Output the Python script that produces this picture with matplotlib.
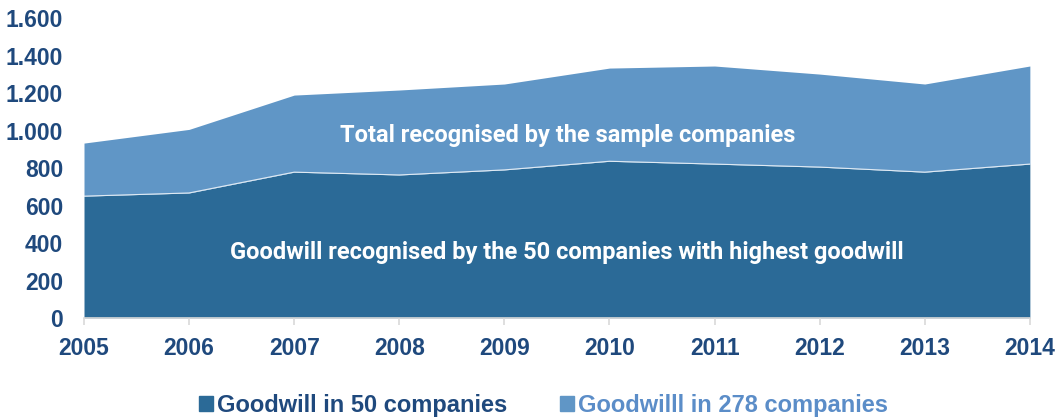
import numpy as np
import matplotlib.pyplot as plt
from matplotlib.ticker import FuncFormatter

years = [2005, 2006, 2007, 2008, 2009, 2010, 2011, 2012, 2013, 2014]
goodwill_50 = [650, 667, 778, 763, 790, 836, 821, 805, 778, 821]
goodwill_total = [933, 1006, 1189, 1216, 1248, 1333, 1344, 1301, 1248, 1344]

dark = '#2b6a97'
light = '#6096c6'
navy = '#1f497d'

fig = plt.figure(figsize=(10.58, 4.19), dpi=100)
ax = fig.add_axes([0.0794, 0.241, 0.894, 0.716])

ax.fill_between(years, 0, goodwill_50, color=dark, lw=0)
ax.fill_between(years, goodwill_50, goodwill_total, color=light, lw=0)
ax.plot(years, goodwill_50, color='white', lw=0.8, alpha=0.8)

ax.set_xlim(2005, 2014)
ax.set_ylim(0, 1600)
ax.set_xticks(years)
ax.set_yticks(range(0, 1601, 200))
ax.yaxis.set_major_formatter(FuncFormatter(lambda v, p: f'{v:,.0f}'.replace(',', '.')))

for s in ['top', 'right', 'left']:
    ax.spines[s].set_visible(False)
ax.spines['bottom'].set_color('#d9d9d9')
ax.spines['bottom'].set_linewidth(1.2)
ax.tick_params(axis='x', colors='#d9d9d9', length=5, width=1.2, labelcolor=navy, pad=9)
ax.tick_params(axis='y', length=0, labelcolor=navy, pad=15)
for lab in ax.get_xticklabels() + ax.get_yticklabels():
    lab.set_fontfamily('Liberation Sans')
    lab.set_fontweight('bold')
    lab.set_fontsize(16.5)

ax.text(2009.6, 976, 'Total recognised by the sample companies', color='white',
        fontfamily='Roboto', fontweight='bold', fontsize=17, ha='center', va='center')
ax.text(2009.59, 352, 'Goodwill recognised by the 50 companies with highest goodwill', color='white',
        fontfamily='Roboto', fontweight='bold', fontsize=17, ha='center', va='center')

h1 = plt.Rectangle((0, 0), 1, 1, color=dark)
h2 = plt.Rectangle((0, 0), 1, 1, color=light)
leg = fig.legend([h1, h2], ['Goodwill in 50 companies', 'Goodwilll in 278 companies'],
                 loc='center', bbox_to_anchor=(0.5137, 0.033), ncol=2, frameon=False,
                 handlelength=0.6, handleheight=0.6, handletextpad=0.2, columnspacing=2.2,
                 borderpad=0, borderaxespad=0,
                 prop={'family': 'Liberation Sans', 'weight': 'bold', 'size': 17})
leg.get_texts()[0].set_color(navy)
leg.get_texts()[1].set_color('#5b8dc8')

fig.savefig('out.png', dpi=100)
